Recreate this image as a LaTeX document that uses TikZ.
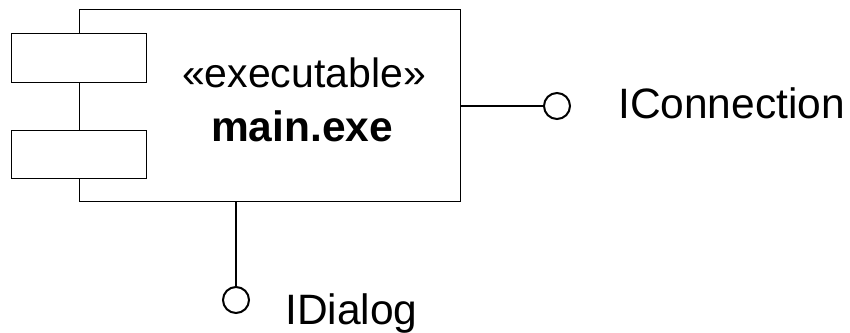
\documentclass[tikz,border=0pt]{standalone}
\usepackage{fontspec}
\setmainfont{Liberation Sans}
\begin{document}
\begin{tikzpicture}[x=1pt,y=-1pt,
  thinbox/.style={draw=black,line width=1pt,fill=white,inner sep=0pt,rectangle},
  lollipop/.style={draw=black,line width=2pt,fill=white,circle,inner sep=0pt,minimum size=26pt},
  conn/.style={draw=black,line width=2pt},
  lbl/.style={inner sep=0pt,anchor=base west,font=\fontsize{42.5}{50}\selectfont}]
\useasboundingbox (0,0) rectangle (850,332);
\node[thinbox,minimum width=381pt,minimum height=192pt,anchor=north west] (box) at (79,9) {};
\node[thinbox,minimum width=135pt,minimum height=49pt,anchor=north west] (r1) at (11,33) {};
\node[thinbox,minimum width=135pt,minimum height=48pt,anchor=north west] (r2) at (11,130) {};
\node[inner sep=0pt,anchor=base,font=\fontsize{41}{48}\selectfont] (st) at (304,87) {«executable»};
\node[inner sep=0pt,anchor=base,font=\fontsize{42.5}{50}\selectfont\bfseries] (nm) at (302,141) {main.exe};
\node[lollipop] (c1) at (557,106) {};
\node[lollipop] (c2) at (236,300) {};
\draw[conn] (c1.west -| box.east) -- (c1.west);
\draw[conn] (c2.north |- box.south) -- (c2.north);
\node[lbl] (l1) at (618,118) {IConnection};
\node[lbl] (l2) at (285,324) {IDialog};
\end{tikzpicture}
\end{document}
